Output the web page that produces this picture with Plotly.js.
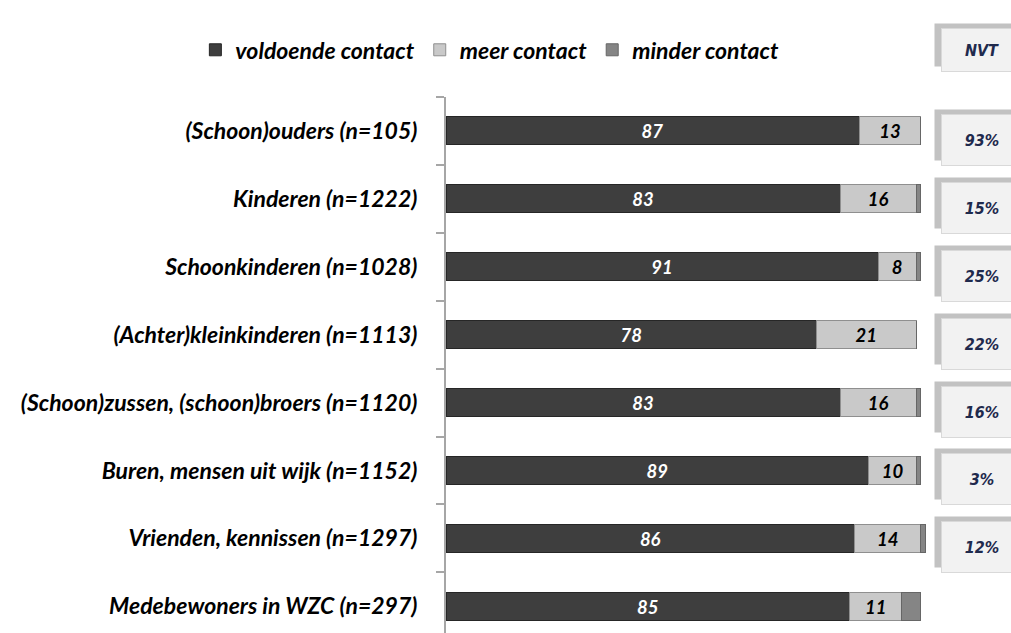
<!DOCTYPE html>
<html>
<head>
<meta charset="utf-8">
<script src="https://cdn.plot.ly/plotly-3.0.1.min.js"></script>
<style>html,body{margin:0;padding:0;background:#fff;}#chart{width:1011px;height:633px;}</style>
</head>
<body>
<div id="chart"></div>
<script>
const categories = [
  '(Schoon)ouders (n=105)',
  'Kinderen (n=1222)',
  'Schoonkinderen (n=1028)',
  '(Achter)kleinkinderen (n=1113)',
  '(Schoon)zussen, (schoon)broers (n=1120)',
  'Buren, mensen uit wijk (n=1152)',
  'Vrienden, kennissen (n=1297)',
  'Medebewoners in WZC (n=297)'
];
const voldoende = [87, 83, 91, 78, 83, 89, 86, 85];
const meer      = [13, 16, 8, 21, 16, 10, 14, 11];
const minder    = [0, 1, 1, 0, 1, 1, 1, 4];
const nvtLabels = ['93%', '15%', '25%', '22%', '16%', '3%', '12%'];
const nvtHeader = 'NVT';
const seriesNames = ['voldoende contact', 'meer contact', 'minder contact'];

const FONT = 'Lato, "Open Sans", sans-serif';
const labelFont = {family: FONT, size: 21, weight: 'bold', style: 'italic'};

const traces = [
  {
    type: 'bar', orientation: 'h', name: seriesNames[0],
    y: categories, x: voldoende,
    marker: {color: '#3e3e3e', line: {color: '#262626', width: 1}},
    text: voldoende.map(String), textposition: 'inside', insidetextanchor: 'middle',
    textangle: 0,
    insidetextfont: Object.assign({color: '#ffffff'}, labelFont),
    hoverinfo: 'x+name'
  },
  {
    type: 'bar', orientation: 'h', name: seriesNames[1],
    y: categories, x: meer,
    marker: {color: '#c9c9c9', line: {color: '#8f8f8f', width: 1}},
    text: meer.map(String), textposition: 'inside', insidetextanchor: 'middle',
    textangle: 0,
    insidetextfont: Object.assign({color: '#000000'}, labelFont),
    hoverinfo: 'x+name'
  },
  {
    type: 'bar', orientation: 'h', name: seriesNames[2],
    y: categories, x: minder,
    marker: {color: '#858585', line: {color: '#666666', width: 1}},
    textposition: 'none',
    hoverinfo: 'x+name'
  }
];

// NVT side boxes (annotations positioned on the category axis)
const boxX = 1.112, boxW = 80, boxH = 50;
const annotations = [];
function addBox(yref, y, text, yshift, h) {
  annotations.push({
    xref: 'paper', yref: yref, x: boxX, y: y, xanchor: 'center', yanchor: 'middle',
    xshift: -7, yshift: yshift + 5, text: ' ', showarrow: false,
    width: boxW, height: h, bgcolor: '#c2c2c2', borderpad: 0
  });
  annotations.push({
    xref: 'paper', yref: yref, x: boxX, y: y, xanchor: 'center', yanchor: 'middle',
    yshift: yshift, text: text, showarrow: false,
    width: boxW, height: h, bgcolor: '#f2f2f2', bordercolor: '#d9d9d9', borderwidth: 1, borderpad: 0,
    font: {family: '"Liberation Sans Narrow", "DejaVu Sans Condensed", sans-serif', size: 16,
           weight: 'bold', style: 'italic', color: '#1f2a4d'}
  });
}
addBox('paper', 1.088, nvtHeader, 0, 42);
nvtLabels.forEach((t, i) => addBox('y', categories[i], t, -9, boxH));

const layout = {
  width: 1011, height: 633,
  margin: {l: 446, r: 83, t: 97, b: 0},
  paper_bgcolor: '#ffffff', plot_bgcolor: '#ffffff',
  barmode: 'stack',
  bargap: 0.588,
  showlegend: true,
  legend: {
    orientation: 'h', x: -0.52, xanchor: 'left', y: 1.088, yanchor: 'middle',
    font: {family: FONT, size: 23, weight: 'bold', style: 'italic', color: '#000'},
    itemwidth: 30, traceorder: 'normal', bgcolor: 'rgba(0,0,0,0)'
  },
  xaxis: {
    range: [0, 101.5], showgrid: false, zeroline: false, showline: false,
    showticklabels: false, ticks: '', fixedrange: true
  },
  yaxis: {
    type: 'category', range: [7.394, -0.5],
    showgrid: false, zeroline: false,
    showline: true, linecolor: '#a6a6a6', linewidth: 2,
    ticks: 'outside', tickson: 'boundaries', ticklen: 8, tickcolor: '#a6a6a6', tickwidth: 2,
    ticklabelstandoff: 22,
    tickfont: {family: FONT, size: 23, weight: 'bold', style: 'italic', color: '#000'},
    fixedrange: true
  },
  annotations: annotations
};

Plotly.newPlot('chart', traces, layout, {displayModeBar: false, staticPlot: true});
</script>
</body>
</html>
